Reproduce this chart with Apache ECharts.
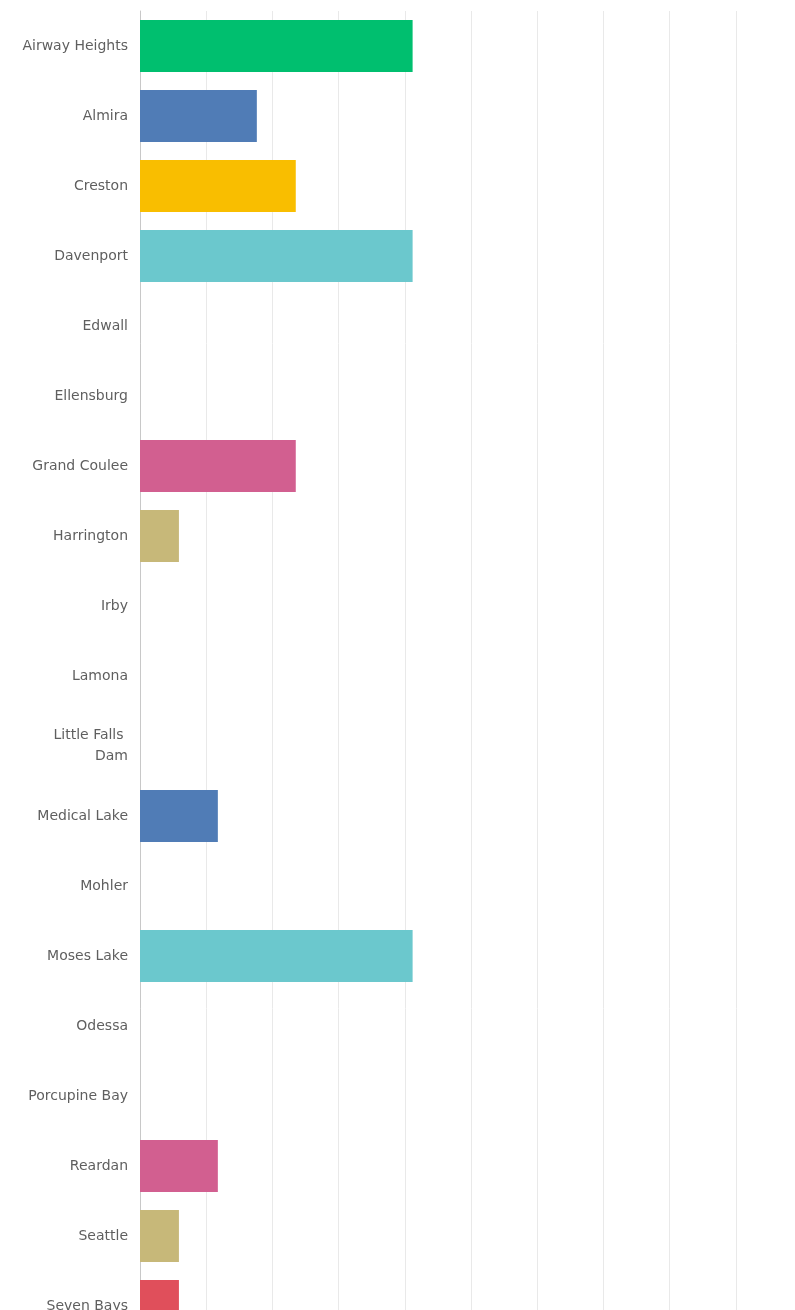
<!DOCTYPE html>
<html>
<head>
<meta charset="utf-8">
<script src="https://cdn.jsdelivr.net/npm/echarts@6/dist/echarts.min.js"></script>
<style>
html,body{margin:0;padding:0;background:#fff;overflow:hidden;}
#chart{width:815px;height:1345px;}
</style>
</head>
<body>
<div id="chart"></div>
<script>
const categories = ["Airway Heights","Almira","Creston","Davenport","Edwall","Ellensburg","Grand Coulee","Harrington","Irby","Lamona","Little Falls Dam","Medical Lake","Mohler","Moses Lake","Odessa","Porcupine Bay","Reardan","Seattle","Seven Bays"];
const values = [41.18,17.65,23.53,41.18,0,0,23.53,5.88,0,0,0,11.76,0,41.18,0,0,11.76,5.88,5.88];
const palette = ["#00BF6F","#507CB6","#F9BE00","#6BC8CD","#FF8B4F","#7D5E90","#D25F90","#C7B879","#E04F5B","#999999"];

const chart = echarts.init(document.getElementById('chart'), null, {renderer:'canvas'});
chart.setOption({
  animation:false,
  grid:{left:140, top:11, width:662, height:1330},
  xAxis:{type:'value', min:0, max:100, interval:10,
    axisLabel:{show:false}, axisLine:{show:false}, axisTick:{show:false},
    splitLine:{show:true, lineStyle:{color:'#e9e9e9', width:1}}},
  yAxis:{type:'category', inverse:true, data:categories,
    axisLine:{show:true, lineStyle:{color:'#c8c8c8'}},
    axisTick:{show:false},
    axisLabel:{margin:12, color:'#5f5f5f', fontFamily:'DejaVu Sans', fontSize:14, lineHeight:21,
      width:107, overflow:'break', align:'right'}},
  series:[{type:'bar', barWidth:52, data:values.map((v,i)=>({value:v, itemStyle:{color:palette[i%10]}}))}]
});
</script>
</body>
</html>
